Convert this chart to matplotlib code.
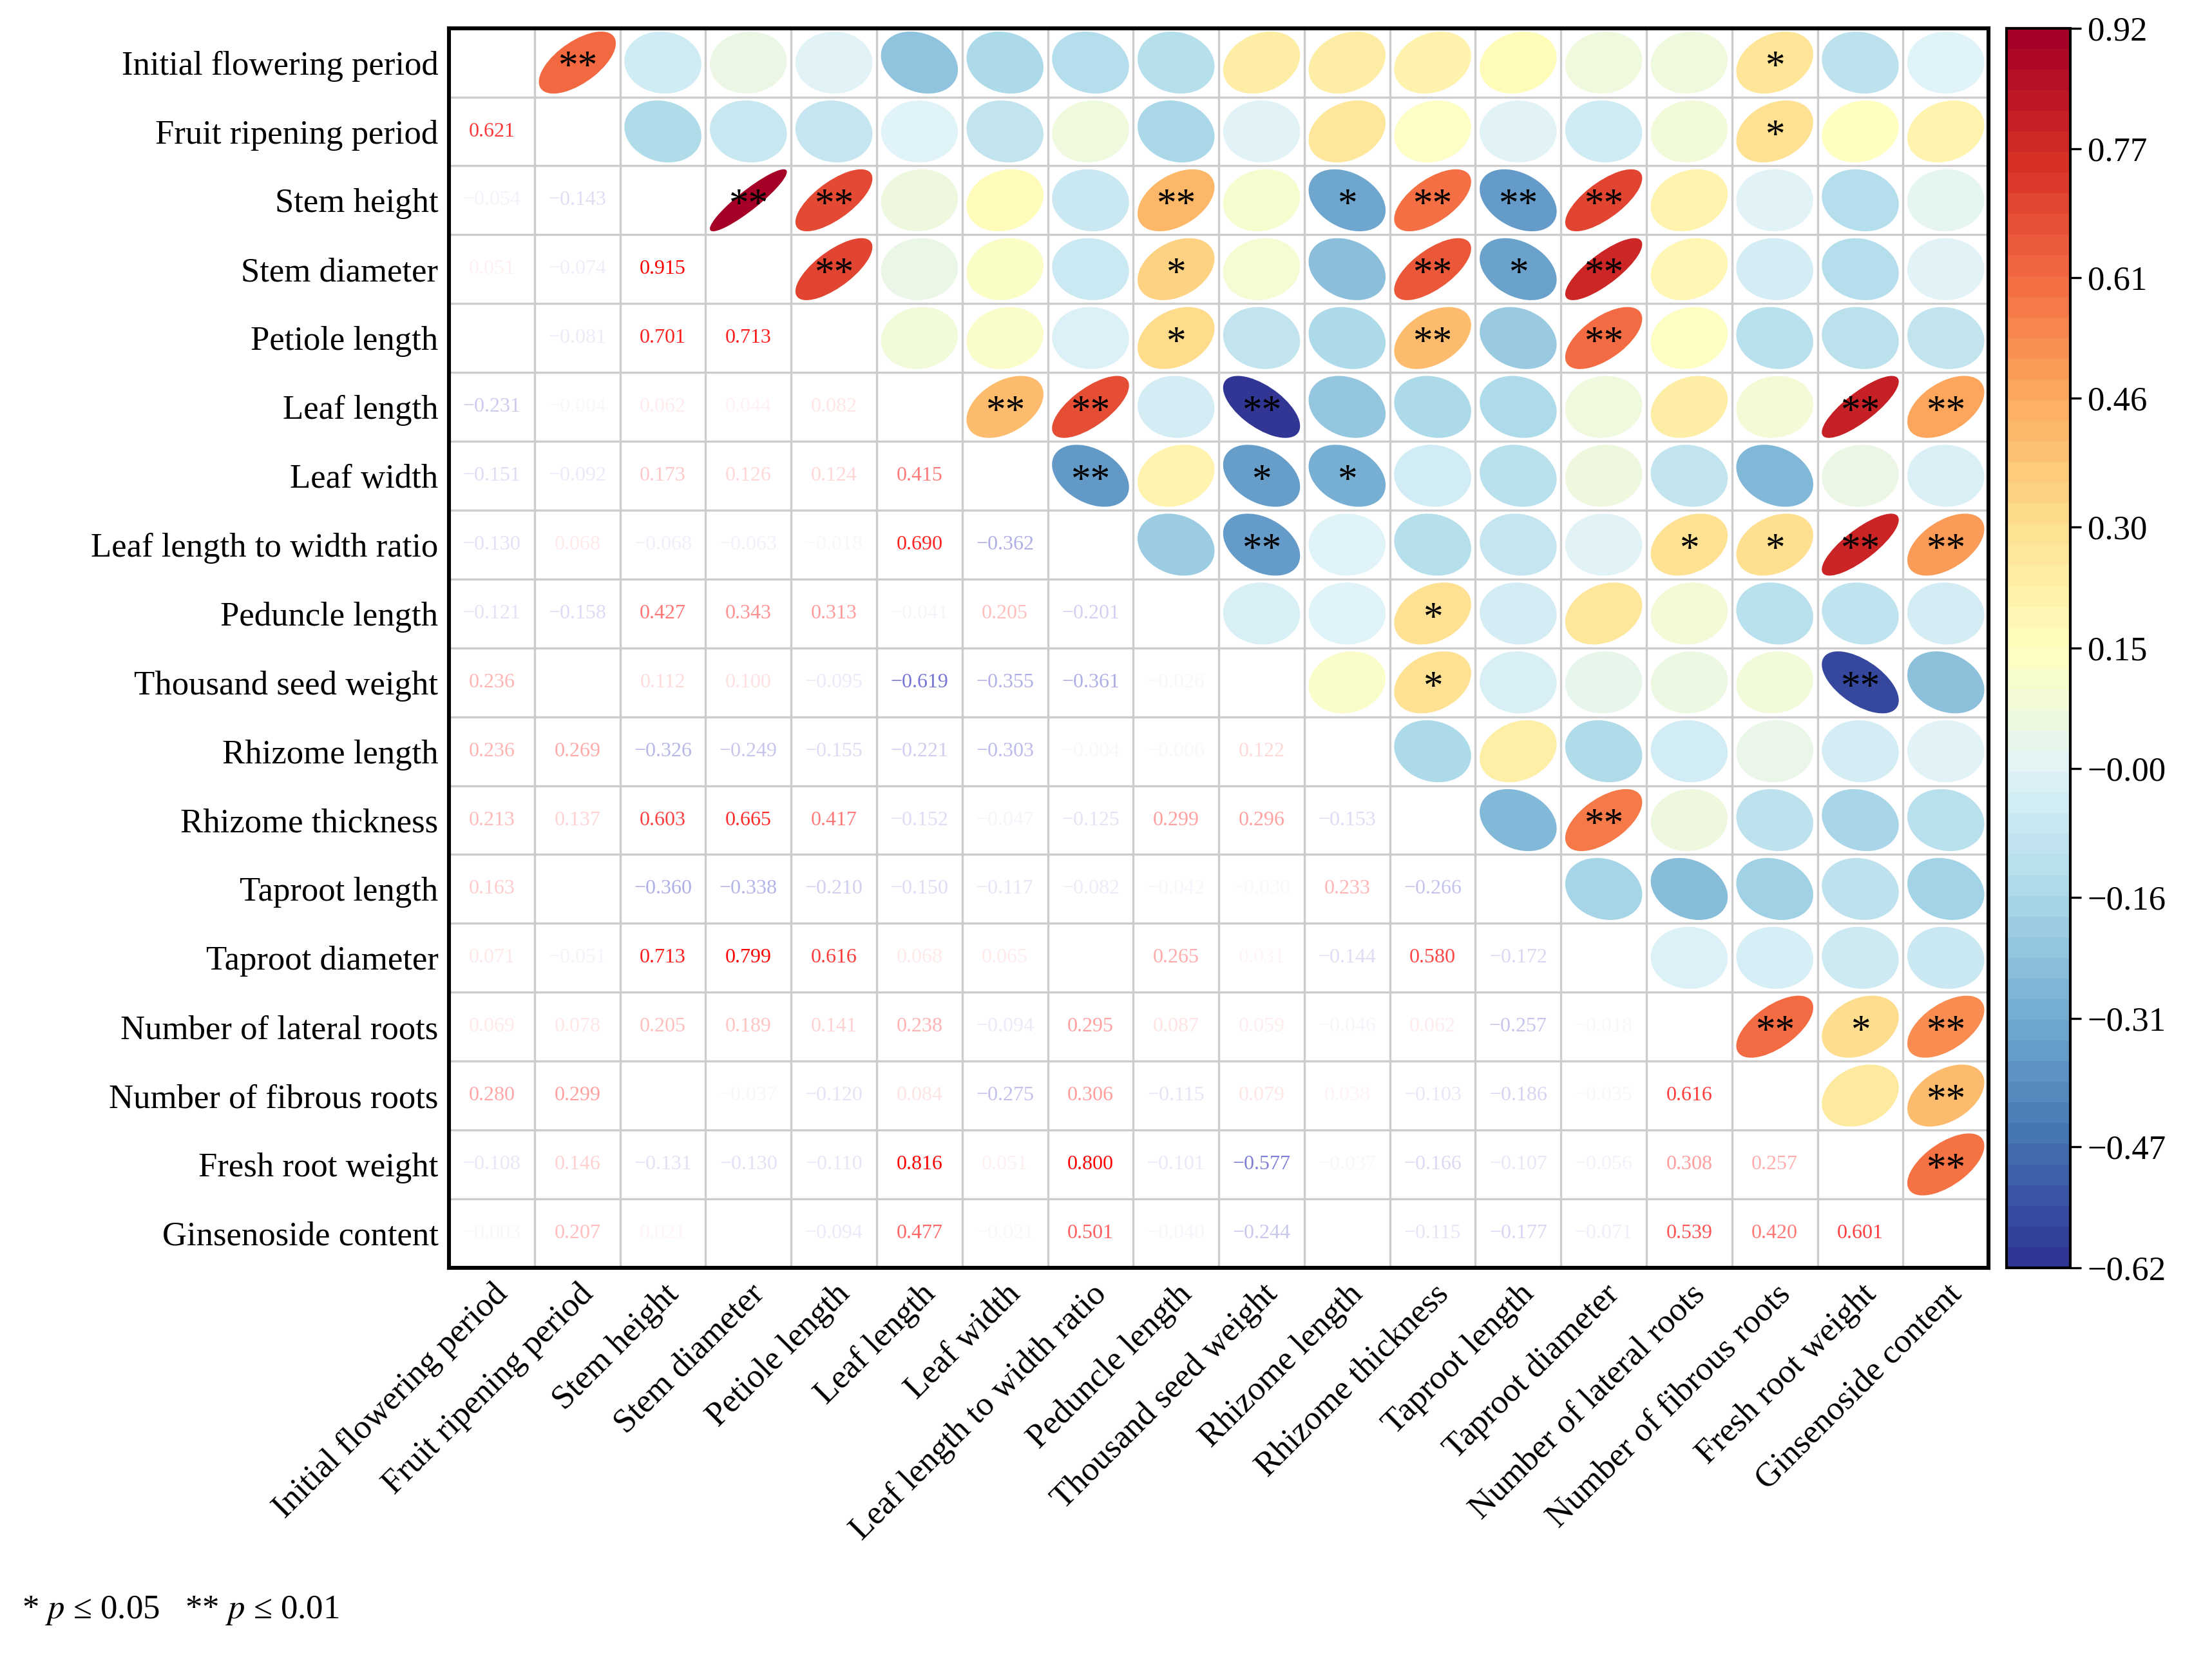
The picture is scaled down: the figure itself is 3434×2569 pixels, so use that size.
import numpy as np
import matplotlib
matplotlib.use("Agg")
import matplotlib.pyplot as plt
from matplotlib.patches import Ellipse
from matplotlib.colors import Normalize

plt.rcParams['font.family'] = ['Liberation Serif', 'DejaVu Serif']
plt.rcParams['mathtext.fontset'] = 'stix'

traits = ["Initial flowering period", "Fruit ripening period", "Stem height", "Stem diameter",
          "Petiole length", "Leaf length", "Leaf width", "Leaf length to width ratio",
          "Peduncle length", "Thousand seed weight", "Rhizome length", "Rhizome thickness",
          "Taproot length", "Taproot diameter", "Number of lateral roots",
          "Number of fibrous roots", "Fresh root weight", "Ginsenoside content"]

# lower triangle, row by row (None = value not printed in the source)
lower = [
    [],
    [0.621],
    [-0.054, -0.143],
    [0.051, -0.074, 0.915],
    [None, -0.081, 0.701, 0.713],
    [-0.231, -0.004, 0.062, 0.044, 0.082],
    [-0.151, -0.092, 0.173, 0.126, 0.124, 0.415],
    [-0.130, 0.068, -0.068, -0.063, -0.018, 0.690, -0.362],
    [-0.121, -0.158, 0.427, 0.343, 0.313, -0.041, 0.205, -0.201],
    [0.236, None, 0.112, 0.100, -0.095, -0.619, -0.355, -0.361, -0.026],
    [0.236, 0.269, -0.326, -0.249, -0.155, -0.221, -0.303, -0.004, -0.006, 0.122],
    [0.213, 0.137, 0.603, 0.665, 0.417, -0.152, -0.047, -0.125, 0.299, 0.296, -0.153],
    [0.163, None, -0.360, -0.338, -0.210, -0.150, -0.117, -0.082, -0.042, -0.030, 0.233, -0.266],
    [0.071, -0.051, 0.713, 0.799, 0.616, 0.068, 0.065, None, 0.265, 0.031, -0.144, 0.580, -0.172],
    [0.069, 0.078, 0.205, 0.189, 0.141, 0.238, -0.094, 0.295, 0.087, 0.059, -0.046, 0.062, -0.257, -0.018],
    [0.280, 0.299, None, -0.037, -0.120, 0.084, -0.275, 0.306, -0.115, 0.079, 0.038, -0.103, -0.186, -0.035, 0.616],
    [-0.108, 0.146, -0.131, -0.130, -0.110, 0.816, 0.051, 0.800, -0.101, -0.577, -0.037, -0.166, -0.107, -0.056, 0.308, 0.257],
    [-0.003, 0.207, 0.021, None, -0.094, 0.477, -0.021, 0.501, -0.040, -0.244, None, -0.115, -0.177, -0.071, 0.539, 0.420, 0.601],
]

cbar_ticks = [0.92, 0.77, 0.61, 0.46, 0.30, 0.15, -0.00, -0.16, -0.31, -0.47, -0.62]
vmin, vmax = -0.62, 0.92

n = len(traits)
cmap = plt.get_cmap('RdYlBu_r')
norm = Normalize(vmin, vmax)

fig = plt.figure(figsize=(17.17, 12.845), dpi=200)
ax = fig.add_axes([0.203, 0.234, 0.696, 0.749])
ax.set_xlim(-0.5, n - 0.5)
ax.set_ylim(n - 0.5, -0.5)

for k in range(n + 1):
    ax.axhline(k - 0.5, color='#cccccc', lw=1.2, zorder=0)
    ax.axvline(k - 0.5, color='#cccccc', lw=1.2, zorder=0)

for i in range(n):
    for j in range(i):
        r = lower[i][j]
        # text in lower triangle
        if r is not None:
            a = min(1.0, abs(r) / 0.8)
            col = (1, 0, 0) if r > 0 else (0.3, 0.3, 0.78)
            ax.text(j, i, f"{r:.3f}".replace('-', '\u2212'), ha='center', va='center',
                    fontsize=11.5, color=col, alpha=max(a, 0.04))
        rv = 0.0 if r is None else r
        # ellipse in upper triangle at (row j, col i)
        major = 0.9 * np.sqrt(1 + abs(rv))
        minor = 0.9 * np.sqrt(1 - abs(rv))
        ang = 45 if rv >= 0 else -45
        # y axis inverted: positive r should rise to the right
        e = Ellipse((i, j), major, minor, angle=-ang, facecolor=cmap(norm(rv)),
                    edgecolor='none', zorder=2)
        ax.add_patch(e)
        star = '**' if abs(rv) >= 0.36 else ('*' if abs(rv) >= 0.28 else '')
        if star:
            ax.text(i, j + 0.08, star, ha='center', va='center', fontsize=22,
                    color='black', zorder=3)

ax.set_xticks(range(n))
ax.set_yticks(range(n))
ax.set_xticklabels(traits, rotation=45, ha='right', rotation_mode='anchor', fontsize=19)
ax.set_yticklabels(traits, fontsize=19)
ax.tick_params(length=0, pad=6)
for s in ax.spines.values():
    s.set_linewidth(2.2)
    s.set_color('black')

cax = fig.add_axes([0.907, 0.234, 0.029, 0.749])
cb = fig.colorbar(plt.cm.ScalarMappable(norm=norm, cmap=plt.get_cmap('RdYlBu_r', 60)), cax=cax)
cb.set_ticks(cbar_ticks)
cb.set_ticklabels([f"{t:.2f}".replace('-', '\u2212') for t in cbar_ticks])
cb.ax.tick_params(labelsize=19, length=6, width=1.2)
cb.outline.set_linewidth(1.5)

fig.text(0.01, 0.022, r"* $\it{p}$ ≤ 0.05   ** $\it{p}$ ≤ 0.01", fontsize=19)

fig.savefig("out.png", dpi=200)
